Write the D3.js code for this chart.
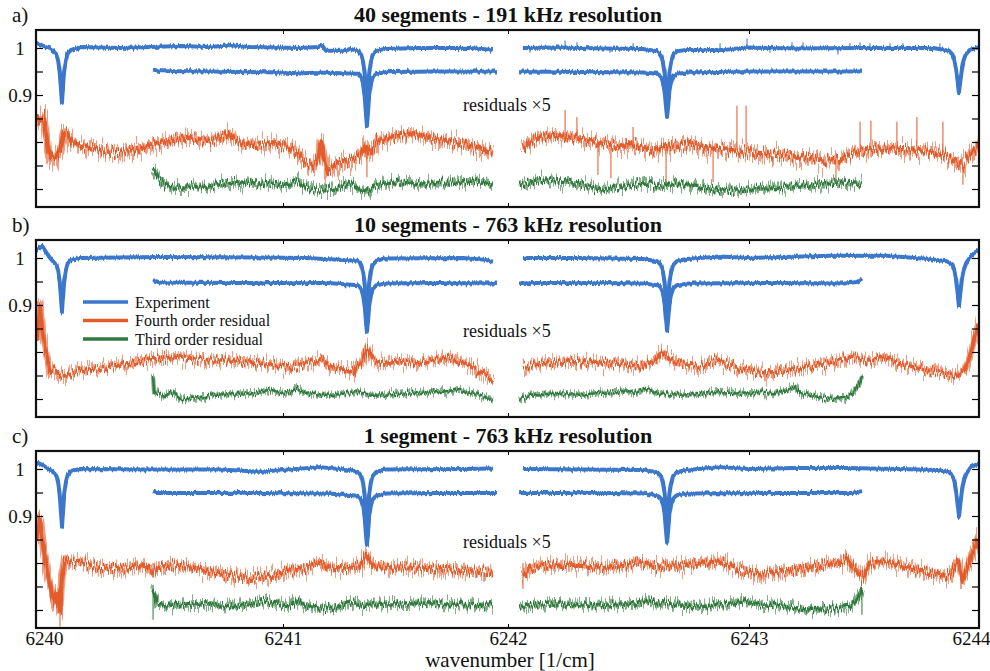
<!DOCTYPE html>
<html>
<head>
<meta charset="utf-8">
<script src="https://cdn.jsdelivr.net/npm/d3@7"></script>
<style>
    body { margin: 0; background: #fff; }
    svg, svg text { font-family: "Liberation Serif", "Tinos", "Times New Roman", Times, "DejaVu Serif", serif; }
</style>
</head>
<body>
<div id="wrapper"></div>
<script>
// ---- data ----
const xTicks = [6240, 6241, 6242, 6243, 6244]
const yTicks = [0.7, 0.75, 0.8, 0.85, 0.9, 0.95, 1]
const yLabelled = [0.9, 1]
const panelLetters = ["a)", "b)", "c)"]
const titles = ["40 segments - 191 kHz resolution", "10 segments - 763 kHz resolution", "1 segment - 763 kHz resolution"]
const legendLabels = ["Experiment", "Fourth order residual", "Third order residual"]
const xLabel = "wavenumber [1/cm]"
const residualNote = "residuals \u00d75"

// panel a: experiment (upper trace), two scan windows
const expA = [
    [[6240.000,1.011],[6240.020,1.007],[6240.040,1.002],[6240.057,0.999],[6240.070,0.994],[6240.083,0.986],[6240.090,0.972],[6240.096,0.950],[6240.101,0.914],[6240.105,0.883],[6240.109,0.914],[6240.114,0.950],[6240.120,0.972],[6240.128,0.988],[6240.142,0.996],[6240.178,1.002],[6240.340,1.000],[6240.583,1.004],[6240.704,1.002],[6240.785,1.006],[6240.866,1.002],[6241.076,1.000],[6241.155,1.002],[6241.173,1.006],[6241.191,0.994],[6241.276,0.994],[6241.298,0.998],[6241.333,0.994],[6241.348,0.985],[6241.356,0.970],[6241.363,0.946],[6241.368,0.910],[6241.373,0.879],[6241.378,0.910],[6241.383,0.946],[6241.390,0.970],[6241.398,0.985],[6241.415,0.994],[6241.450,0.998],[6241.609,1.000],[6241.831,1.000],[6241.933,0.996]],
    [[6242.062,1.000],[6242.200,1.001],[6242.400,0.999],[6242.560,0.998],[6242.620,0.993],[6242.635,0.985],[6242.643,0.970],[6242.650,0.948],[6242.655,0.914],[6242.660,0.885],[6242.665,0.914],[6242.670,0.948],[6242.677,0.970],[6242.685,0.985],[6242.700,0.993],[6242.740,0.996],[6242.900,0.996],[6242.990,1.001],[6243.200,0.999],[6243.500,1.000],[6243.800,1.000],[6243.870,0.994],[6243.885,0.986],[6243.893,0.974],[6243.900,0.956],[6243.907,0.930],[6243.913,0.906],[6243.919,0.930],[6243.926,0.956],[6243.933,0.974],[6243.942,0.986],[6243.960,0.996],[6244.000,1.002]]
]
const expSpikesA = [[6242.091,0.999,0.990],[6242.237,0.999,1.016],[6242.286,0.999,1.012],[6242.423,0.999,0.990],[6242.519,0.999,1.010],[6242.880,0.996,1.010],[6242.992,1.000,1.020],[6243.091,1.000,0.990],[6243.187,1.000,1.012],[6243.235,1.000,1.012],[6243.387,1.000,0.986],[6243.439,1.000,1.010],[6243.483,1.000,1.012],[6243.526,1.000,1.010],[6243.613,1.000,1.010],[6243.669,1.000,1.010],[6243.830,1.000,1.010]]
const expShiftA = [
    [[6240.474,0.954],[6240.502,0.951],[6240.700,0.950],[6241.000,0.948],[6241.076,0.946],[6241.150,0.948],[6241.333,0.945],[6241.348,0.937],[6241.356,0.922],[6241.363,0.899],[6241.368,0.864],[6241.373,0.834],[6241.378,0.864],[6241.383,0.899],[6241.390,0.922],[6241.398,0.937],[6241.415,0.945],[6241.460,0.949],[6241.700,0.950],[6241.951,0.950]],
    [[6242.046,0.950],[6242.300,0.949],[6242.560,0.948],[6242.620,0.945],[6242.635,0.939],[6242.643,0.927],[6242.650,0.908],[6242.655,0.878],[6242.660,0.853],[6242.665,0.878],[6242.670,0.908],[6242.677,0.927],[6242.685,0.939],[6242.700,0.945],[6242.750,0.948],[6243.000,0.950],[6243.300,0.950],[6243.491,0.950]]
]
const res4A = [
    [[6240.004,0.857],[6240.016,0.843],[6240.032,0.851],[6240.049,0.783],[6240.065,0.762],[6240.081,0.766],[6240.097,0.783],[6240.113,0.821],[6240.130,0.815],[6240.146,0.798],[6240.178,0.794],[6240.219,0.787],[6240.259,0.783],[6240.300,0.779],[6240.340,0.779],[6240.381,0.783],[6240.421,0.783],[6240.462,0.794],[6240.502,0.798],[6240.543,0.804],[6240.583,0.806],[6240.623,0.809],[6240.664,0.804],[6240.704,0.802],[6240.745,0.809],[6240.777,0.819],[6240.806,0.804],[6240.846,0.794],[6240.907,0.794],[6240.968,0.798],[6241.031,0.787],[6241.067,0.772],[6241.098,0.757],[6241.129,0.751],[6241.156,0.766],[6241.169,0.800],[6241.182,0.762],[6241.200,0.736],[6241.222,0.745],[6241.253,0.755],[6241.298,0.762],[6241.342,0.772],[6241.369,0.794],[6241.387,0.779],[6241.422,0.804],[6241.476,0.811],[6241.520,0.815],[6241.564,0.817],[6241.609,0.815],[6241.653,0.811],[6241.698,0.804],[6241.742,0.802],[6241.787,0.798],[6241.831,0.794],[6241.876,0.787],[6241.933,0.777]],
    [[6242.062,0.783],[6242.091,0.800],[6242.133,0.811],[6242.195,0.815],[6242.257,0.809],[6242.340,0.804],[6242.423,0.794],[6242.465,0.787],[6242.506,0.798],[6242.548,0.789],[6242.610,0.783],[6242.672,0.794],[6242.714,0.791],[6242.755,0.800],[6242.797,0.791],[6242.838,0.787],[6242.921,0.783],[6243.004,0.779],[6243.091,0.774],[6243.178,0.770],[6243.265,0.766],[6243.330,0.760],[6243.396,0.762],[6243.439,0.772],[6243.483,0.779],[6243.570,0.787],[6243.657,0.783],[6243.743,0.781],[6243.830,0.777],[6243.896,0.762],[6243.926,0.751],[6243.961,0.772],[6244.000,0.794]]
]
const res4SpikesA = [[6241.373,0.780,0.725],[6242.237,0.811,0.868],[6242.286,0.809,0.853],[6242.373,0.804,0.730],[6242.427,0.794,0.723],[6242.519,0.797,0.832],[6242.656,0.790,0.713],[6242.851,0.787,0.715],[6242.950,0.782,0.877],[6242.988,0.780,0.877],[6243.378,0.761,0.713],[6243.483,0.779,0.843],[6243.530,0.785,0.845],[6243.643,0.783,0.843],[6243.730,0.781,0.853],[6243.843,0.777,0.843],[6243.930,0.751,0.709]]
const res3A = [
    [[6240.474,0.740],[6240.494,0.723],[6240.522,0.709],[6240.563,0.704],[6240.623,0.704],[6240.684,0.706],[6240.745,0.709],[6240.826,0.715],[6240.887,0.713],[6240.947,0.711],[6241.009,0.706],[6241.062,0.717],[6241.098,0.704],[6241.142,0.698],[6241.209,0.698],[6241.253,0.702],[6241.298,0.713],[6241.333,0.702],[6241.373,0.694],[6241.409,0.706],[6241.453,0.711],[6241.520,0.715],[6241.587,0.711],[6241.653,0.711],[6241.742,0.713],[6241.831,0.717],[6241.933,0.713]],
    [[6242.046,0.709],[6242.091,0.715],[6242.154,0.719],[6242.216,0.717],[6242.299,0.711],[6242.382,0.700],[6242.444,0.702],[6242.506,0.706],[6242.568,0.715],[6242.631,0.704],[6242.693,0.713],[6242.755,0.709],[6242.817,0.702],[6242.880,0.696],[6242.963,0.698],[6243.048,0.702],[6243.178,0.704],[6243.309,0.711],[6243.417,0.713],[6243.491,0.709]]
]

// panel b
const expB = [
    [[6240.000,1.017],[6240.024,1.026],[6240.040,1.013],[6240.057,1.000],[6240.070,0.992],[6240.083,0.985],[6240.090,0.972],[6240.096,0.950],[6240.101,0.914],[6240.105,0.884],[6240.109,0.914],[6240.114,0.950],[6240.120,0.972],[6240.128,0.988],[6240.142,0.996],[6240.178,1.000],[6240.500,1.002],[6240.900,1.001],[6241.100,1.000],[6241.333,0.994],[6241.348,0.985],[6241.356,0.970],[6241.363,0.946],[6241.368,0.910],[6241.373,0.880],[6241.378,0.910],[6241.383,0.946],[6241.390,0.970],[6241.398,0.985],[6241.415,0.994],[6241.450,0.999],[6241.800,1.000],[6241.900,0.996],[6241.933,0.992]],
    [[6242.062,1.000],[6242.300,1.000],[6242.560,0.998],[6242.620,0.993],[6242.635,0.985],[6242.643,0.970],[6242.650,0.948],[6242.655,0.914],[6242.660,0.885],[6242.665,0.914],[6242.670,0.948],[6242.677,0.970],[6242.685,0.985],[6242.700,0.993],[6242.740,0.998],[6242.880,1.003],[6243.000,1.000],[6243.350,1.005],[6243.600,1.005],[6243.780,0.998],[6243.860,0.993],[6243.885,0.986],[6243.893,0.974],[6243.900,0.956],[6243.907,0.926],[6243.913,0.898],[6243.919,0.926],[6243.926,0.956],[6243.933,0.974],[6243.945,0.990],[6243.965,1.004],[6243.985,1.013],[6244.000,1.017]]
]
const expShiftB = [
    [[6240.474,0.953],[6240.500,0.948],[6240.800,0.947],[6241.200,0.947],[6241.333,0.942],[6241.348,0.934],[6241.356,0.920],[6241.363,0.898],[6241.368,0.866],[6241.373,0.843],[6241.378,0.866],[6241.383,0.898],[6241.390,0.920],[6241.398,0.934],[6241.415,0.942],[6241.460,0.946],[6241.700,0.947],[6241.951,0.946]],
    [[6242.046,0.947],[6242.400,0.947],[6242.560,0.946],[6242.620,0.942],[6242.635,0.935],[6242.643,0.922],[6242.650,0.902],[6242.655,0.872],[6242.660,0.845],[6242.665,0.872],[6242.670,0.902],[6242.677,0.922],[6242.685,0.935],[6242.700,0.942],[6242.750,0.946],[6243.100,0.947],[6243.420,0.946],[6243.470,0.949],[6243.491,0.956]]
]
const res4B = [
    [[6240.004,0.826],[6240.016,0.900],[6240.028,0.836],[6240.040,0.804],[6240.057,0.757],[6240.077,0.762],[6240.097,0.751],[6240.117,0.749],[6240.146,0.757],[6240.178,0.762],[6240.259,0.766],[6240.340,0.772],[6240.421,0.779],[6240.502,0.787],[6240.563,0.789],[6240.623,0.787],[6240.704,0.783],[6240.785,0.783],[6240.866,0.779],[6240.947,0.774],[6241.031,0.766],[6241.076,0.774],[6241.142,0.779],[6241.173,0.785],[6241.209,0.768],[6241.276,0.762],[6241.316,0.757],[6241.324,0.772],[6241.351,0.779],[6241.373,0.809],[6241.396,0.789],[6241.431,0.779],[6241.520,0.779],[6241.609,0.777],[6241.698,0.783],[6241.733,0.791],[6241.778,0.779],[6241.831,0.770],[6241.876,0.757],[6241.907,0.749],[6241.933,0.738]],
    [[6242.062,0.768],[6242.133,0.777],[6242.216,0.779],[6242.299,0.779],[6242.382,0.777],[6242.465,0.774],[6242.548,0.770],[6242.610,0.783],[6242.639,0.800],[6242.672,0.787],[6242.714,0.777],[6242.797,0.768],[6242.859,0.783],[6242.900,0.774],[6242.963,0.764],[6243.026,0.757],[6243.091,0.755],[6243.178,0.762],[6243.265,0.770],[6243.352,0.777],[6243.417,0.787],[6243.461,0.789],[6243.526,0.781],[6243.591,0.789],[6243.657,0.774],[6243.743,0.766],[6243.830,0.757],[6243.896,0.751],[6243.939,0.762],[6243.961,0.791],[6243.983,0.836],[6244.000,0.864]]
]
const res3B = [
    [[6240.474,0.749],[6240.478,0.715],[6240.494,0.713],[6240.522,0.706],[6240.551,0.715],[6240.583,0.700],[6240.623,0.700],[6240.664,0.702],[6240.725,0.709],[6240.826,0.711],[6240.899,0.713],[6240.935,0.719],[6240.988,0.713],[6241.031,0.715],[6241.062,0.723],[6241.098,0.713],[6241.164,0.709],[6241.231,0.709],[6241.298,0.713],[6241.333,0.715],[6241.387,0.709],[6241.453,0.709],[6241.520,0.711],[6241.609,0.713],[6241.698,0.715],[6241.764,0.719],[6241.831,0.713],[6241.898,0.704],[6241.933,0.698]],
    [[6242.046,0.698],[6242.091,0.709],[6242.174,0.711],[6242.299,0.709],[6242.382,0.713],[6242.465,0.715],[6242.485,0.719],[6242.527,0.713],[6242.577,0.721],[6242.631,0.711],[6242.714,0.709],[6242.797,0.711],[6242.880,0.715],[6242.963,0.711],[6243.048,0.713],[6243.135,0.713],[6243.200,0.726],[6243.222,0.713],[6243.287,0.706],[6243.352,0.700],[6243.417,0.702],[6243.448,0.711],[6243.470,0.726],[6243.483,0.736],[6243.491,0.749]]
]

// panel c
const expC = [
    [[6240.000,1.015],[6240.020,1.010],[6240.040,1.004],[6240.057,0.998],[6240.070,0.993],[6240.083,0.985],[6240.090,0.970],[6240.096,0.946],[6240.101,0.908],[6240.105,0.877],[6240.109,0.908],[6240.114,0.946],[6240.120,0.970],[6240.128,0.987],[6240.142,0.996],[6240.180,1.000],[6240.470,0.999],[6240.750,0.999],[6240.907,0.994],[6241.000,0.998],[6241.164,1.004],[6241.298,0.998],[6241.333,0.994],[6241.348,0.985],[6241.356,0.970],[6241.363,0.946],[6241.368,0.910],[6241.373,0.879],[6241.378,0.910],[6241.383,0.946],[6241.390,0.970],[6241.398,0.985],[6241.415,0.994],[6241.450,0.999],[6241.800,1.000],[6241.933,1.001]],
    [[6242.062,1.000],[6242.300,0.999],[6242.560,0.998],[6242.620,0.993],[6242.635,0.985],[6242.643,0.970],[6242.650,0.948],[6242.655,0.914],[6242.660,0.885],[6242.665,0.914],[6242.670,0.948],[6242.677,0.970],[6242.685,0.985],[6242.700,0.993],[6242.740,0.998],[6242.880,1.004],[6243.000,1.000],[6243.200,1.002],[6243.420,1.002],[6243.650,1.000],[6243.820,0.998],[6243.870,0.993],[6243.885,0.986],[6243.893,0.974],[6243.900,0.954],[6243.907,0.926],[6243.913,0.898],[6243.919,0.926],[6243.926,0.954],[6243.933,0.974],[6243.945,0.990],[6243.965,1.004],[6244.000,1.012]]
]
const expShiftC = [
    [[6240.474,0.952],[6240.490,0.949],[6240.800,0.949],[6241.200,0.948],[6241.333,0.943],[6241.348,0.935],[6241.356,0.921],[6241.363,0.899],[6241.368,0.864],[6241.373,0.838],[6241.378,0.864],[6241.383,0.899],[6241.390,0.921],[6241.398,0.935],[6241.415,0.943],[6241.460,0.948],[6241.700,0.949],[6241.951,0.949]],
    [[6242.046,0.949],[6242.400,0.949],[6242.560,0.948],[6242.620,0.944],[6242.635,0.937],[6242.643,0.924],[6242.650,0.904],[6242.655,0.872],[6242.660,0.843],[6242.665,0.872],[6242.670,0.904],[6242.677,0.924],[6242.685,0.937],[6242.700,0.944],[6242.750,0.948],[6243.100,0.949],[6243.450,0.949],[6243.491,0.953]]
]
const res4C = [
    [[6240.004,0.849],[6240.016,0.891],[6240.028,0.838],[6240.045,0.785],[6240.061,0.743],[6240.077,0.711],[6240.089,0.738],[6240.097,0.696],[6240.105,0.768],[6240.117,0.806],[6240.138,0.802],[6240.178,0.802],[6240.219,0.796],[6240.259,0.789],[6240.320,0.789],[6240.381,0.791],[6240.441,0.796],[6240.474,0.781],[6240.494,0.791],[6240.563,0.796],[6240.623,0.791],[6240.704,0.781],[6240.785,0.774],[6240.866,0.768],[6240.947,0.772],[6241.031,0.785],[6241.098,0.789],[6241.164,0.802],[6241.209,0.789],[6241.298,0.789],[6241.342,0.796],[6241.369,0.817],[6241.396,0.796],[6241.453,0.789],[6241.564,0.791],[6241.653,0.789],[6241.787,0.785],[6241.876,0.781],[6241.933,0.781]],
    [[6242.062,0.774],[6242.091,0.791],[6242.154,0.794],[6242.216,0.796],[6242.299,0.796],[6242.382,0.791],[6242.485,0.796],[6242.548,0.802],[6242.610,0.791],[6242.660,0.796],[6242.714,0.794],[6242.776,0.798],[6242.880,0.804],[6242.963,0.785],[6243.048,0.777],[6243.135,0.781],[6243.222,0.787],[6243.309,0.796],[6243.387,0.800],[6243.422,0.811],[6243.461,0.785],[6243.491,0.768],[6243.526,0.800],[6243.613,0.802],[6243.700,0.789],[6243.787,0.779],[6243.874,0.774],[6243.909,0.802],[6243.930,0.764],[6243.961,0.806],[6243.983,0.836],[6244.000,0.857]]
]
const res4SpikesC = [[6240.097,0.750,0.665],[6240.474,0.800,0.770],[6242.062,0.800,0.745]]
const res3C = [
    [[6240.474,0.743],[6240.490,0.715],[6240.522,0.711],[6240.583,0.709],[6240.644,0.713],[6240.704,0.713],[6240.785,0.709],[6240.866,0.711],[6240.927,0.719],[6240.988,0.711],[6241.031,0.709],[6241.062,0.721],[6241.098,0.709],[6241.164,0.704],[6241.231,0.706],[6241.298,0.717],[6241.342,0.709],[6241.387,0.711],[6241.476,0.713],[6241.564,0.713],[6241.653,0.715],[6241.742,0.711],[6241.831,0.709],[6241.933,0.711]],
    [[6242.046,0.706],[6242.112,0.711],[6242.195,0.713],[6242.299,0.711],[6242.382,0.709],[6242.465,0.713],[6242.527,0.713],[6242.581,0.721],[6242.622,0.713],[6242.651,0.717],[6242.714,0.709],[6242.797,0.706],[6242.880,0.713],[6242.983,0.717],[6243.048,0.711],[6243.135,0.709],[6243.222,0.704],[6243.309,0.700],[6243.396,0.704],[6243.439,0.709],[6243.465,0.721],[6243.483,0.734],[6243.491,0.747]]
]
const res3SpikesC = [[6240.474,0.745,0.679],[6243.491,0.747,0.690]]

// ---- layout ----
const width = 990
const height = 671
const serif = '"Liberation Serif", "Tinos", "Times New Roman", Times, "DejaVu Serif", serif'
const dimensions = {
    left: 36,
    right: 979,
    panelHeight: 177,
    tops: [30, 240, 451]
}
const colors = { exp: "#3b78cc", res4: "#e25c2c", res3: "#2f7a3c" }

const panels = [
    { exp: expA, shift: expShiftA, expSpikes: expSpikesA, res4: res4A, res4Spikes: res4SpikesA, res3: res3A, res3Spikes: [], noise: [36, 24], band: [8, 6], note: 81 },
    { exp: expB, shift: expShiftB, expSpikes: [], res4: res4B, res4Spikes: [], res3: res3B, res3Spikes: [], noise: [28, 14], band: [6.5, 4.5], note: 97 },
    { exp: expC, shift: expShiftC, expSpikes: [], res4: res4C, res4Spikes: res4SpikesC, res3: res3C, res3Spikes: res3SpikesC, noise: [34, 22], band: [7.5, 6], note: 97 }
]

// scan is slightly stretched, so the x scale is piecewise through the tick positions
const xScale = d3.scaleLinear()
    .domain(xTicks)
    .range([36, 283, 508, 749, 979])

const yScale = d3.scaleLinear()
    .domain([0.6617, 1.0383])
    .range([dimensions.panelHeight, 0])

const line = d3.line()
    .x(d => xScale(d[0]))
    .y(d => yScale(d[1]))

const svg = d3.select("#wrapper")
    .append("svg")
    .attr("width", width)
    .attr("height", height)
    .attr("font-family", serif)

const defs = svg.append("defs")

defs.append("clipPath")
    .attr("id", "plot-clip")
    .append("rect")
    .attr("x", dimensions.left)
    .attr("y", 0)
    .attr("width", dimensions.right - dimensions.left)
    .attr("height", dimensions.panelHeight)

// measurement noise texture (vertical jitter only)
function noiseFilter(id, seed, scale, freq) {
    const f = defs.append("filter")
        .attr("id", id)
        .attr("filterUnits", "userSpaceOnUse")
        .attr("x", 0).attr("y", -60)
        .attr("width", width).attr("height", 300)
        .attr("color-interpolation-filters", "sRGB")
    f.append("feTurbulence")
        .attr("type", "fractalNoise")
        .attr("baseFrequency", `${freq} 0.01`)
        .attr("numOctaves", 2)
        .attr("seed", seed)
        .attr("result", "turb")
    f.append("feColorMatrix")
        .attr("in", "turb")
        .attr("type", "matrix")
        .attr("values", "0 0 0 0 0.5  0 1 0 0 0  0 0 0 0 0  0 0 0 0 1")
        .attr("result", "map")
    f.append("feDisplacementMap")
        .attr("in", "SourceGraphic")
        .attr("in2", "map")
        .attr("scale", scale)
        .attr("xChannelSelector", "R")
        .attr("yChannelSelector", "G")
}

panels.forEach((p, i) => {
    const top = dimensions.tops[i]
    noiseFilter(`n4a-${i}`, 3 + i * 7, p.noise[0], 0.8)
    noiseFilter(`n4b-${i}`, 41 + i * 7, p.noise[0] * 0.6, 0.9)
    noiseFilter(`n3a-${i}`, 5 + i * 5, p.noise[1], 0.8)
    noiseFilter(`n3b-${i}`, 63 + i * 5, p.noise[1] * 0.6, 0.9)
    noiseFilter(`ne-${i}`, 11 + i * 3, 5, 0.6)

    const bounds = svg.append("g")
        .attr("transform", `translate(0, ${top})`)

    const traces = bounds.append("g")
        .attr("clip-path", "url(#plot-clip)")

    function drawNoisy(segs, color, key, band) {
        const layers = [
            { w: band, op: 0.6, f: `${key}a-${i}` },
            { w: band * 0.55, op: 1, f: `${key}b-${i}` }
        ]
        layers.forEach(l => {
            traces.append("g").selectAll("path")
                .data(segs)
                .join("path")
                .attr("d", line)
                .attr("fill", "none")
                .attr("stroke", color)
                .attr("stroke-width", l.w)
                .attr("stroke-opacity", l.op)
                .attr("stroke-linejoin", "round")
                .attr("filter", `url(#${l.f})`)
        })
    }

    function drawSpikes(spikes, color) {
        traces.append("g").selectAll("line")
            .data(spikes)
            .join("line")
            .attr("x1", d => xScale(d[0]))
            .attr("x2", d => xScale(d[0]))
            .attr("y1", d => yScale(d[1]))
            .attr("y2", d => yScale(d[2]))
            .attr("stroke", color)
            .attr("stroke-width", 1.3)
            .attr("stroke-opacity", 0.8)
    }

    drawNoisy(p.res4, colors.res4, "n4", p.band[0])
    drawSpikes(p.res4Spikes, colors.res4)
    drawNoisy(p.res3, colors.res3, "n3", p.band[1])
    drawSpikes(p.res3Spikes, colors.res3)

    traces.append("g").selectAll("path")
        .data(p.shift.concat(p.exp))
        .join("path")
        .attr("d", line)
        .attr("fill", "none")
        .attr("stroke", colors.exp)
        .attr("stroke-width", 4)
        .attr("stroke-linejoin", "round")
        .attr("filter", `url(#ne-${i})`)
    traces.append("g").selectAll("path")
        .data(p.shift.concat(p.exp))
        .join("path")
        .attr("d", line)
        .attr("fill", "none")
        .attr("stroke", colors.exp)
        .attr("stroke-width", 2.6)
        .attr("stroke-linejoin", "round")
    drawSpikes(p.expSpikes, colors.exp)

    // axes: inward ticks on all four sides
    const yAxisLeft = bounds.append("g")
        .attr("transform", `translate(${dimensions.left}, 0)`)
        .call(d3.axisLeft(yScale)
            .tickValues(yTicks)
            .tickSize(-7)
            .tickFormat(d => yLabelled.includes(d) ? d3.format("")(d) : ""))
    yAxisLeft.attr("font-family", serif)
    yAxisLeft.select(".domain").remove()
    yAxisLeft.selectAll("line").attr("stroke-width", 1.2)
    yAxisLeft.selectAll("text")
        .attr("x", -16)
        .attr("text-anchor", "middle")
        .attr("font-size", 19)
        .attr("fill", "#111")

    const yAxisRight = bounds.append("g")
        .attr("transform", `translate(${dimensions.right}, 0)`)
        .call(d3.axisRight(yScale).tickValues(yTicks).tickSize(-7).tickFormat(""))
    yAxisRight.select(".domain").remove()
    yAxisRight.selectAll("line").attr("stroke-width", 1.2)

    const xAxisTop = bounds.append("g")
        .call(d3.axisTop(xScale).tickValues(xTicks.slice(1, -1)).tickSize(-4).tickFormat(""))
    xAxisTop.select(".domain").remove()

    const xAxisBottom = bounds.append("g")
        .attr("transform", `translate(0, ${dimensions.panelHeight})`)
        .call(d3.axisBottom(xScale)
            .tickValues(xTicks)
            .tickSize(-4)
            .tickPadding(4)
            .tickFormat(i === 2 ? d3.format("") : ""))
    xAxisBottom.attr("font-family", serif)
    xAxisBottom.select(".domain").remove()
    xAxisBottom.selectAll("text")
        .attr("font-size", 19)
        .attr("fill", "#111")
        .attr("dx", (d, k) => k === 0 ? 8 : k === xTicks.length - 1 ? -8 : 0)

    // frame
    bounds.append("rect")
        .attr("x", dimensions.left)
        .attr("y", 0)
        .attr("width", dimensions.right - dimensions.left)
        .attr("height", dimensions.panelHeight)
        .attr("fill", "none")
        .attr("stroke", "#111")
        .attr("stroke-width", 2.2)

    bounds.append("text")
        .attr("x", 12)
        .attr("y", -8)
        .attr("font-size", 21)
        .attr("fill", "#111")
        .text(panelLetters[i])

    bounds.append("text")
        .attr("x", 508)
        .attr("y", -8)
        .attr("text-anchor", "middle")
        .attr("font-size", 22)
        .attr("font-weight", "bold")
        .attr("fill", "#111")
        .text(titles[i])

    bounds.append("text")
        .attr("x", 463)
        .attr("y", p.note)
        .attr("font-size", 18)
        .attr("fill", "#111")
        .text(residualNote)

    if (i === 1) {
        const legendColors = [colors.exp, colors.res4, colors.res3]
        const rows = bounds.append("g").selectAll("g")
            .data(legendLabels)
            .join("g")
            .attr("transform", (d, k) => `translate(83, ${62 + k * 18.5})`)
        rows.append("line")
            .attr("x1", 0).attr("x2", 45)
            .attr("stroke", (d, k) => legendColors[k])
            .attr("stroke-width", 3.5)
        rows.append("text")
            .attr("x", 52)
            .attr("y", 5.5)
            .attr("font-size", 16)
            .attr("fill", "#111")
            .text(d => d)
    }
})

svg.append("text")
    .attr("x", 510)
    .attr("y", 667)
    .attr("text-anchor", "middle")
    .attr("font-size", 21)
    .attr("fill", "#111")
    .text(xLabel)
</script>
</body>
</html>
